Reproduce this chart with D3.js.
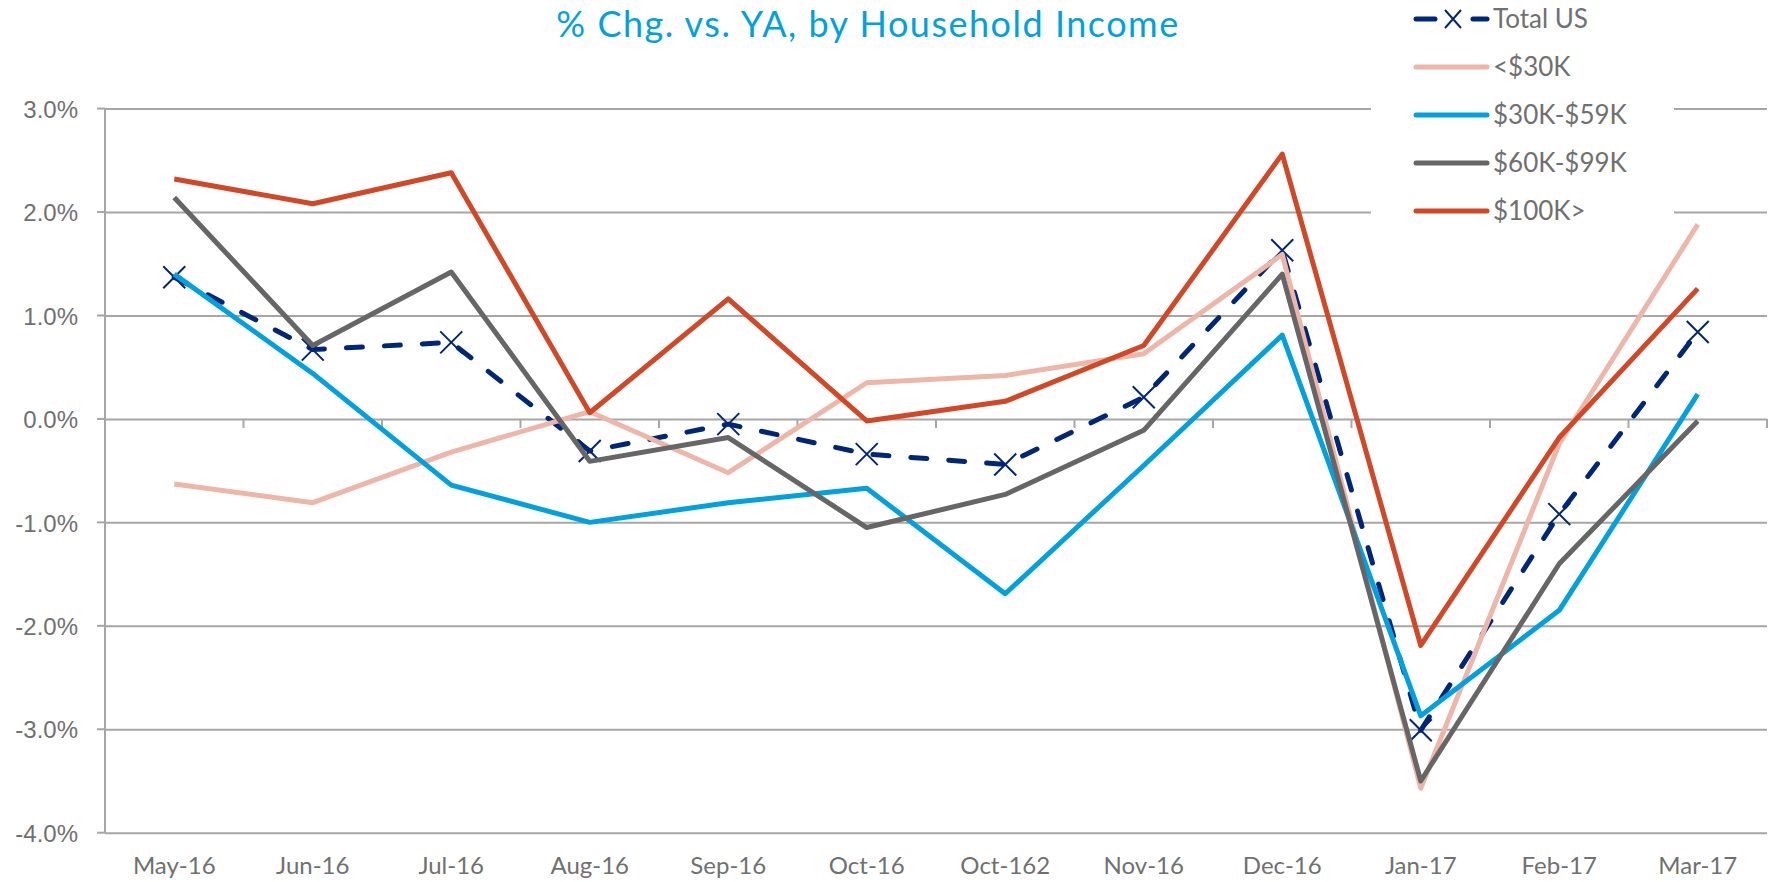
<!DOCTYPE html>
<html>
<head>
<meta charset="utf-8">
<script src="https://cdn.jsdelivr.net/npm/d3@7"></script>
<style>
  body { margin: 0; background: #fff; }
  svg { display: block; font-family: Lato, "Open Sans", sans-serif; }
</style>
</head>
<body>
<script>
// categories and series values (% change vs year ago)
var months = ["May-16", "Jun-16", "Jul-16", "Aug-16", "Sep-16", "Oct-16",
              "Oct-162", "Nov-16", "Dec-16", "Jan-17", "Feb-17", "Mar-17"];
var totalUS  = [1.37, 0.67, 0.74, -0.31, -0.05, -0.34, -0.44, 0.21, 1.63, -3.01, -0.92, 0.84];
var under30k = [-0.63, -0.81, -0.32, 0.07, -0.52, 0.35, 0.42, 0.63, 1.59, -3.57, -0.24, 1.88];
var k30to59  = [1.40, 0.44, -0.64, -1.00, -0.81, -0.67, -1.69, -0.45, 0.81, -2.87, -1.85, 0.24];
var k60to99  = [2.14, 0.71, 1.42, -0.41, -0.18, -1.05, -0.73, -0.11, 1.40, -3.50, -1.40, -0.02];
var k100plus = [2.32, 2.08, 2.38, 0.06, 1.16, -0.02, 0.17, 0.71, 2.56, -2.19, -0.18, 1.26];
var yTicks = [3, 2, 1, 0, -1, -2, -3, -4];

var series = [
  {name: "Total US",  values: totalUS,  color: "#002677", dashed: true},
  {name: "<$30K",     values: under30k, color: "#EEB6A9"},
  {name: "$30K-$59K", values: k30to59,  color: "#00A1DE"},
  {name: "$60K-$99K", values: k60to99,  color: "#666666"},
  {name: "$100K>",    values: k100plus, color: "#D24726"}
];

var width = 1774, height = 882;
var plot = {left: 105, right: 1767, top: 108.6, bottom: 832.7};

var svg = d3.select("body").append("svg")
    .attr("width", width)
    .attr("height", height);

var x = d3.scaleBand()
    .domain(months)
    .range([plot.left, plot.right])
    .padding(0);
var y = d3.scaleLinear()
    .domain([-4, 3])
    .range([plot.bottom, plot.top]);

var gridColor = "#a6a6a6";

// horizontal gridlines + y labels (plain hyphen for negatives, like the original)
svg.append("g")
    .attr("transform", "translate(" + plot.left + ",0)")
    .call(d3.axisLeft(y)
          .tickValues(yTicks)
          .tickSize(-(plot.right - plot.left))
          .tickPadding(27)
          .tickFormat(function(d) { return d.toFixed(1) + "%"; }))
    .call(function(g) {
        g.select(".domain").remove();
        g.selectAll("line").attr("stroke", gridColor).attr("stroke-width", 2);
        g.selectAll("text")
            .attr("fill", "#707070")
            .style("font-size", "24px")
            .attr("dy", "0.36em");
    });

// small outside ticks on the y axis
svg.append("g")
    .selectAll("line")
    .data(yTicks)
    .enter()
    .append("line")
    .attr("x1", plot.left - 8)
    .attr("x2", plot.left)
    .attr("y1", function(d) { return y(d); })
    .attr("y2", function(d) { return y(d); })
    .attr("stroke", gridColor)
    .attr("stroke-width", 2);

// y axis line
svg.append("line")
    .attr("x1", plot.left).attr("x2", plot.left)
    .attr("y1", plot.top).attr("y2", plot.bottom)
    .attr("stroke", gridColor)
    .attr("stroke-width", 2);

// x axis crosses at zero: tick marks at band edges
svg.append("g")
    .selectAll("line")
    .data(months.slice(1).concat(["end"]))
    .enter()
    .append("line")
    .attr("x1", function(d, i) { return x(months[0]) + (i + 1) * x.bandwidth(); })
    .attr("x2", function(d, i) { return x(months[0]) + (i + 1) * x.bandwidth(); })
    .attr("y1", y(0))
    .attr("y2", y(0) + 9)
    .attr("stroke", gridColor)
    .attr("stroke-width", 2);

// x labels sit below the plot
svg.append("g")
    .selectAll("text")
    .data(months)
    .enter()
    .append("text")
    .attr("x", function(d) { return x(d) + x.bandwidth() / 2; })
    .attr("y", 874)
    .attr("text-anchor", "middle")
    .attr("fill", "#707070")
    .style("font-size", "24px")
    .text(function(d) { return d; });

// legend background (hides gridlines behind it)
svg.append("rect")
    .attr("x", 1371).attr("y", 0)
    .attr("width", 303).attr("height", 232)
    .attr("fill", "#fff");

// title
svg.append("text")
    .attr("x", 868)
    .attr("y", 37)
    .attr("text-anchor", "middle")
    .attr("fill", "#00A1DE")
    .style("font-size", "36px")
    .style("letter-spacing", "1.5px")
    .text("% Chg. vs. YA, by Household Income");

var line = d3.line()
    .x(function(d, i) { return x(months[i]) + x.bandwidth() / 2; })
    .y(function(d) { return y(d); });

series.forEach(function(s) {
    svg.append("path")
        .datum(s.values)
        .attr("fill", "none")
        .attr("stroke", s.color)
        .attr("stroke-width", 5)
        .attr("stroke-linejoin", "round")
        .attr("stroke-linecap", s.dashed ? "round" : "butt")
        .attr("stroke-dasharray", s.dashed ? "16,22" : null)
        .attr("d", line);

    if (s.dashed) {
        svg.selectAll("xMarkers")
            .data(s.values)
            .enter()
            .append("path")
            .attr("transform", function(d, i) {
                return "translate(" + (x(months[i]) + x.bandwidth() / 2) + "," + y(d) + ")";
            })
            .attr("d", "M-11,-11L11,11M-11,11L11,-11")
            .attr("stroke", s.color)
            .attr("stroke-width", 2)
            .attr("fill", "none");
    }
});

// legend
var legend = svg.append("g")
    .selectAll("g")
    .data(series)
    .enter()
    .append("g")
    .attr("transform", function(d, i) { return "translate(1416," + (19 + i * 48) + ")"; });

legend.append("line")
    .attr("x1", 0).attr("x2", 71)
    .attr("y1", 0).attr("y2", 0)
    .attr("stroke", function(d) { return d.color; })
    .attr("stroke-width", 5)
    .attr("stroke-linecap", "round")
    .attr("stroke-dasharray", function(d) { return d.dashed ? "19,38" : null; });

legend.filter(function(d) { return d.dashed; })
    .append("path")
    .attr("d", "M29,-9L45,9M29,9L45,-9")
    .attr("stroke", function(d) { return d.color; })
    .attr("stroke-width", 2);

legend.append("text")
    .attr("x", 77)
    .attr("y", 0)
    .attr("dy", "0.35em")
    .attr("fill", "#707070")
    .style("font-size", "26px")
    .text(function(d) { return d.name; });
</script>
</body>
</html>
